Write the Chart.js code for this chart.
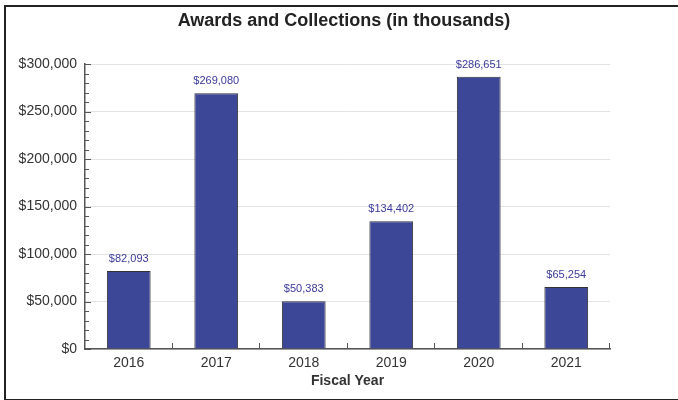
<!DOCTYPE html>
<html>
<head>
<meta charset="utf-8">
<script src="https://cdn.jsdelivr.net/npm/chart.js@4"></script>
<style>
    body { margin: 0; background: #fff; }
    #wrap { position: relative; width: 678px; height: 400px; overflow: hidden; }
    #frame { position: absolute; left: 4px; top: 5px; width: 700px; height: 392px; border: 2px solid #222; }
    canvas { position: absolute; left: 0; top: 0; }
</style>
</head>
<body>
<div id="wrap">
    <div id="frame"></div>
    <canvas id="chart" width="678" height="400"></canvas>
</div>
<script>
// Chart data
const years = ['2016', '2017', '2018', '2019', '2020', '2021'];
const amounts = [82093, 269080, 50383, 134402, 286651, 65254];
const yTicks = [0, 50000, 100000, 150000, 200000, 250000, 300000];

const titleText = 'Awards and Collections (in thousands)';
const xTitle = 'Fiscal Year';

function money(v) {
    return '$' + v.toString().replace(/\B(?=(\d{3})+(?!\d))/g, ',');
}

// Title, value labels and inward tick marks
const extras = {
    id: 'extras',
    afterDatasetsDraw(chart) {
        const ctx = chart.ctx;
        const y = chart.scales.y;
        const area = chart.chartArea;

        ctx.save();
        ctx.fillStyle = '#222';
        ctx.font = 'bold 18px "Liberation Sans", Arial, sans-serif';
        ctx.textAlign = 'center';
        ctx.textBaseline = 'middle';
        ctx.fillText(titleText, 344, 21);

        // value labels
        ctx.fillStyle = '#3a3a9c';
        ctx.font = '11px "Liberation Sans", Arial, sans-serif';
        const meta = chart.getDatasetMeta(0);
        meta.data.forEach((bar, i) => {
            ctx.fillText(money(amounts[i]), bar.x, bar.y - 12);
        });

        // y ticks, minor every 10k
        ctx.strokeStyle = '#555';
        ctx.lineWidth = 1;
        ctx.beginPath();
        for (let v = 0; v <= 300000; v += 10000) {
            const py = Math.round(y.getPixelForValue(v)) + 0.5;
            const len = v % 50000 === 0 ? 6 : 4;
            ctx.moveTo(area.left, py);
            ctx.lineTo(area.left + len, py);
        }
        // x ticks at category boundaries
        const step = (area.right - area.left) / years.length;
        for (let i = 1; i <= years.length; i++) {
            const px = Math.round(area.left + step * i) - 0.5;
            ctx.moveTo(px, area.bottom);
            ctx.lineTo(px, area.bottom - 6);
        }
        ctx.stroke();
        ctx.restore();
    }
};

new Chart(document.getElementById('chart'), {
    type: 'bar',
    data: {
        labels: years,
        datasets: [{
            data: amounts,
            backgroundColor: '#3d4797',
            borderColor: '#333',
            borderWidth: 1,
            barPercentage: 0.5,
            categoryPercentage: 1.0
        }]
    },
    options: {
        responsive: false,
        animation: false,
        devicePixelRatio: 1,
        layout: {
            padding: { top: 64, right: 68, bottom: 10, left: 5 }
        },
        plugins: {
            legend: { display: false },
            tooltip: { enabled: false }
        },
        scales: {
            x: {
                grid: { display: false, drawTicks: false },
                border: { display: true, color: '#555', width: 1.5 },
                ticks: {
                    color: '#333',
                    font: { size: 14, family: '"Liberation Sans", Arial, sans-serif' },
                    padding: 6
                },
                title: {
                    display: true,
                    text: xTitle,
                    color: '#333',
                    font: { size: 14, weight: 'bold', family: '"Liberation Sans", Arial, sans-serif' },
                    padding: { top: 0, bottom: 0 }
                },
                afterFit(scale) { scale.height = 41; }
            },
            y: {
                min: 0,
                max: 300000,
                afterBuildTicks(scale) {
                    scale.ticks = yTicks.map(v => ({ value: v }));
                },
                grid: { color: '#e3e3e3', drawTicks: false },
                border: { display: true, color: '#555', width: 1.5 },
                ticks: {
                    color: '#333',
                    font: { size: 14, family: '"Liberation Sans", Arial, sans-serif' },
                    padding: 8,
                    callback: v => money(v)
                },
                afterFit(scale) { scale.width = 80; }
            }
        }
    },
    plugins: [extras]
});
</script>
</body>
</html>
